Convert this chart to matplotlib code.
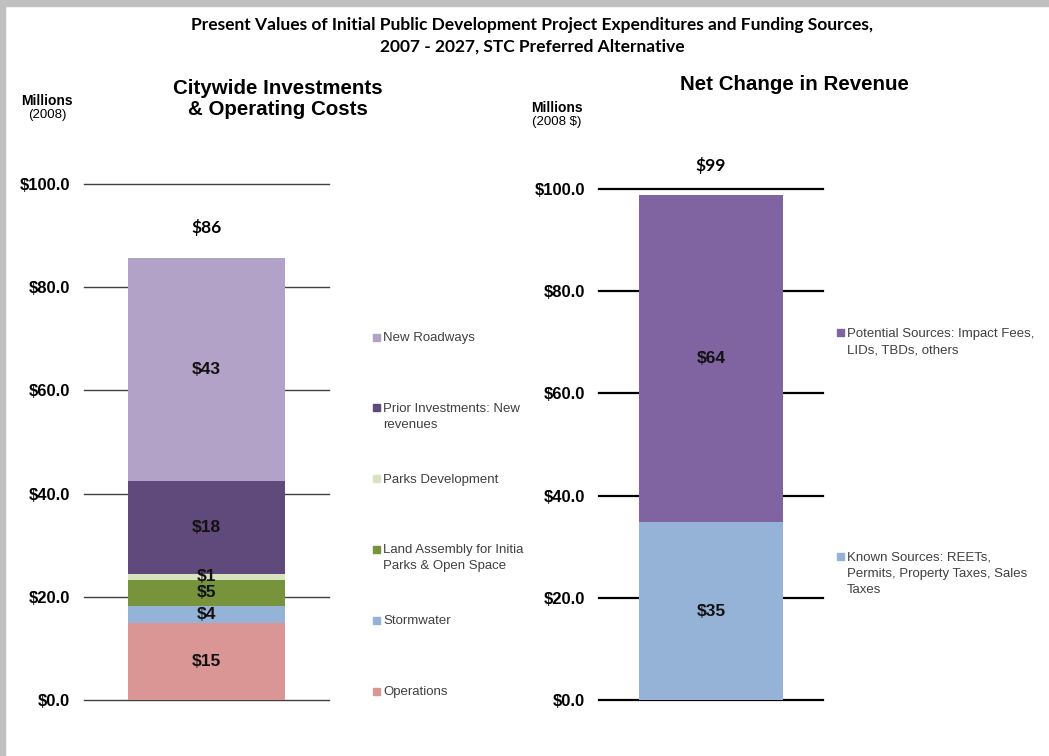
import matplotlib
matplotlib.use('Agg')
import matplotlib.pyplot as plt
from matplotlib.patches import Rectangle

plt.rcParams['font.family'] = ['Liberation Sans', 'DejaVu Sans']

# Citywide investments & operating costs (stack order, bottom to top)
cost_names = ['Operations', 'Stormwater',
              'Land Assembly for Initial\nParks & Open Space',
              'Parks Development', 'Prior Investments: New\nrevenues',
              'New Roadways']
cost_values = [15.0, 3.3, 5.0, 1.1, 18.1, 43.2]
cost_text = ['$15', '$4', '$5', '$1', '$18', '$43']
cost_colors = ['#D99694', '#95B3D7', '#77933C', '#D7E4BD', '#604A7B', '#B3A2C7']
cost_total = '$86'

# Net change in revenue
rev_names = ['Known Sources: REETs,\nPermits, Property Taxes, Sales\nTaxes',
             'Potential Sources: Impact Fees,\nLIDs, TBDs, others']
rev_values = [34.8, 64.0]
rev_text = ['$35', '$64']
rev_colors = ['#95B3D7', '#8064A2']
rev_total = '$99'

yticks = [0, 20, 40, 60, 80, 100]

W, H = 1049, 756
fig = plt.figure(figsize=(W / 100, H / 100), dpi=100)


def fx(x):
    return x / W


def fy(y):
    return 1 - y / H


def add_axes_px(x0, x1, y_top, y_bot):
    return fig.add_axes([fx(x0), fy(y_bot), fx(x1 - x0), (y_bot - y_top) / H])


def stacked(ax, values, colors, texts, total, grid_color, grid_lw):
    for t in yticks:
        ax.axhline(t, color=grid_color, lw=grid_lw, zorder=1, clip_on=False)
    bottom = 0
    for v, c, t in zip(values, colors, texts):
        ax.bar(0, v, bottom=bottom, width=0.643, color=c, zorder=2)
        ax.text(0, bottom + v / 2, t, ha='center', va='center',
                fontsize=12.5, fontweight='bold', color='#111111', zorder=3)
        bottom += v
    ax.text(0, bottom + 5.8, total, ha='center', va='center', fontsize=12.5,
            fontweight='bold', family=['Lato', 'DejaVu Sans'], clip_on=False)
    ax.set_xlim(-0.5, 0.5)
    ax.set_ylim(0, 100)
    ax.set_yticks(yticks)
    ax.set_yticklabels(['${:.1f}'.format(t) for t in yticks],
                       fontsize=12, fontweight='bold')
    ax.tick_params(axis='y', length=0, pad=10)
    ax.set_xticks([])
    for s in ax.spines.values():
        s.set_visible(False)
    ax.patch.set_alpha(0)


def legend_px(x0, x1, y_top, y_bot, names, colors, first_y, step):
    lax = add_axes_px(x0, x1, y_top, y_bot)
    lax.set_xlim(x0, x1)
    lax.set_ylim(y_bot, y_top)
    lax.axis('off')
    for i, (n, c) in enumerate(zip(names, colors)):
        y = first_y + i * step
        lax.add_patch(Rectangle((x0 + 3, y - 3.5), 7, 7, color=c))
        lax.text(x0 + 13, y - 5, n, ha='left', va='top', fontsize=9.5,
                 color='#404040', linespacing=1.45, clip_on=True)


# left panel
ax1 = add_axes_px(84, 329, 184, 700)
stacked(ax1, cost_values, cost_colors, cost_text, cost_total, '#404040', 1.0)
legend_px(370, 524, 320, 710, cost_names[::-1], cost_colors[::-1], 337, 70.8)

# right panel
ax2 = add_axes_px(599, 823, 189, 700)
stacked(ax2, rev_values, rev_colors, rev_text, rev_total, 'black', 1.6)
legend_px(834, 1049, 320, 620, rev_names[::-1], rev_colors[::-1], 333, 224)

# titles
title_font = ['Lato', 'DejaVu Sans']
fig.text(fx(532), fy(25), 'Present Values of Initial Public Development Project Expenditures and Funding Sources,',
         ha='center', va='center', fontsize=12.5, fontweight='bold', family=title_font)
fig.text(fx(532), fy(47), '2007 - 2027, STC Preferred Alternative',
         ha='center', va='center', fontsize=12.5, fontweight='bold', family=title_font)
fig.text(fx(278), fy(99), 'Citywide Investments\n& Operating Costs', ha='center', va='center',
         fontsize=14.8, fontweight='bold', linespacing=1.15)
fig.text(fx(794), fy(84), 'Net Change in Revenue', ha='center', va='center',
         fontsize=14.8, fontweight='bold')

fig.text(fx(47), fy(101), 'Millions', ha='center', va='center', fontsize=10, fontweight='bold')
fig.text(fx(47), fy(115), '(2008)', ha='center', va='center', fontsize=9.5)
fig.text(fx(557), fy(108), 'Millions', ha='center', va='center', fontsize=10, fontweight='bold')
fig.text(fx(557), fy(122), '(2008 $)', ha='center', va='center', fontsize=9.5)

# grey frame on the top and left edges
fig.patches.append(Rectangle((0, 0), fx(5), 1, transform=fig.transFigure, color='#C0C0C0'))
fig.patches.append(Rectangle((0, fy(6)), 1, 6 / H, transform=fig.transFigure, color='#C0C0C0'))

plt.savefig('out.png', dpi=100)
